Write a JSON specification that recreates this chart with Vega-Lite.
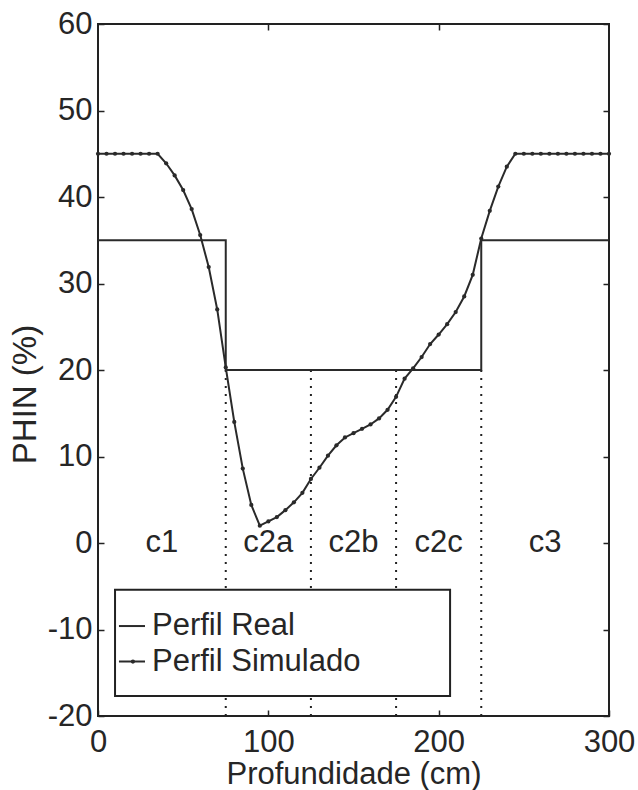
{
  "$schema": "https://vega.github.io/schema/vega-lite/v6.json",
  "width": 511,
  "height": 692,
  "autosize": {"type": "none"},
  "padding": {"left": 98, "top": 24, "right": 29, "bottom": 74},
  "background": "white",
  "config": {
    "view": {"stroke": "#222", "strokeWidth": 2},
    "font": "Liberation Sans",
    "axis": {
      "domain": false,
      "grid": false,
      "tickColor": "#222",
      "tickWidth": 1.5,
      "tickSize": -6,
      "labelFont": "Liberation Sans",
      "labelFontSize": 31,
      "labelColor": "#262626",
      "labelFlush": false,
      "labelExpr": "toString(datum.value)",
      "titleFont": "Liberation Sans",
      "titleFontSize": 31,
      "titleFontWeight": "normal",
      "titleColor": "#262626"
    }
  },
  "datasets": {
    "sim": [
      {"x": 0, "y": 45}, {"x": 5, "y": 45}, {"x": 10, "y": 45}, {"x": 15, "y": 45},
      {"x": 20, "y": 45}, {"x": 25, "y": 45}, {"x": 30, "y": 45}, {"x": 35, "y": 45},
      {"x": 40, "y": 43.9}, {"x": 45, "y": 42.5}, {"x": 50, "y": 40.8}, {"x": 55, "y": 38.6},
      {"x": 60, "y": 35.6}, {"x": 65, "y": 31.9}, {"x": 70, "y": 27.0}, {"x": 75, "y": 20.3},
      {"x": 80, "y": 14.0}, {"x": 85, "y": 8.6}, {"x": 90, "y": 4.4}, {"x": 95, "y": 2.0},
      {"x": 100, "y": 2.5}, {"x": 105, "y": 3.0}, {"x": 110, "y": 3.8}, {"x": 115, "y": 4.7},
      {"x": 120, "y": 5.8}, {"x": 125, "y": 7.4}, {"x": 130, "y": 8.7}, {"x": 135, "y": 10.1},
      {"x": 140, "y": 11.3}, {"x": 145, "y": 12.2}, {"x": 150, "y": 12.7}, {"x": 155, "y": 13.2},
      {"x": 160, "y": 13.7}, {"x": 165, "y": 14.4}, {"x": 170, "y": 15.4}, {"x": 175, "y": 16.9},
      {"x": 180, "y": 19.0}, {"x": 185, "y": 20.2}, {"x": 190, "y": 21.5}, {"x": 195, "y": 23.0},
      {"x": 200, "y": 24.1}, {"x": 205, "y": 25.3}, {"x": 210, "y": 26.7}, {"x": 215, "y": 28.5},
      {"x": 220, "y": 31.0}, {"x": 225, "y": 35.2}, {"x": 230, "y": 38.4}, {"x": 235, "y": 41.2},
      {"x": 240, "y": 43.5}, {"x": 245, "y": 45}, {"x": 250, "y": 45}, {"x": 255, "y": 45},
      {"x": 260, "y": 45}, {"x": 265, "y": 45}, {"x": 270, "y": 45}, {"x": 275, "y": 45},
      {"x": 280, "y": 45}, {"x": 285, "y": 45}, {"x": 290, "y": 45}, {"x": 295, "y": 45},
      {"x": 300, "y": 45}
    ],
    "real": [
      {"i": 0, "x": 0, "y": 35}, {"i": 1, "x": 75, "y": 35}, {"i": 2, "x": 75, "y": 20},
      {"i": 3, "x": 225, "y": 20}, {"i": 4, "x": 225, "y": 35}, {"i": 5, "x": 300, "y": 35}
    ],
    "bounds": [
      {"x": 75, "y": 20, "y2": -20}, {"x": 125, "y": 20, "y2": -20},
      {"x": 175, "y": 20, "y2": -20}, {"x": 225, "y": 20, "y2": -20}
    ],
    "zones": [
      {"x": 37.5, "y": 0, "label": "c1"}, {"x": 100, "y": 0, "label": "c2a"},
      {"x": 150, "y": 0, "label": "c2b"}, {"x": 200, "y": 0, "label": "c2c"},
      {"x": 262.5, "y": 0, "label": "c3"}
    ],
    "legendBox": [{"x": 10, "x2": 206.7, "y": -5.4, "y2": -17.7}],
    "legendItems": [
      {"x": 12.3, "x2": 27.6, "y": -9.6, "tx": 31.7, "label": "Perfil Real"},
      {"x": 12.3, "x2": 27.6, "y": -13.7, "tx": 31.7, "label": "Perfil Simulado"}
    ],
    "legendDot": [{"x": 20.5, "y": -13.7}]
  },
  "resolve": {"axis": {"x": "independent", "y": "independent"}},
  "layer": [
    {
      "data": {"name": "bounds"},
      "mark": {"type": "rule", "color": "#222", "strokeWidth": 2, "strokeDash": [2, 6]},
      "encoding": {
        "x": {"field": "x", "type": "quantitative", "scale": {"domain": [0, 300], "nice": false},
              "axis": {"values": [0, 100, 200, 300], "title": "Profundidade (cm)", "labelPadding": 17,
                       "titleX": 255.5, "titleY": 67, "titleBaseline": "alphabetic"}},
        "y": {"field": "y", "type": "quantitative", "scale": {"domain": [-20, 60], "nice": false},
              "axis": {"values": [-20, -10, 0, 10, 20, 30, 40, 50, 60], "title": "PHIN (%)", "labelPadding": 12,
                       "titleFontSize": 33,
                       "titleX": -73, "titleY": 370, "titleBaseline": "middle", "titleAlign": "center"}},
        "y2": {"field": "y2"}
      }
    },
    {
      "data": {"name": "legendBox"},
      "mark": {"type": "rect", "fill": "white", "stroke": "#222", "strokeWidth": 2},
      "encoding": {
        "x": {"field": "x", "type": "quantitative", "axis": null},
        "x2": {"field": "x2"},
        "y": {"field": "y", "type": "quantitative", "axis": null},
        "y2": {"field": "y2"}
      }
    },
    {
      "data": {"name": "real"},
      "mark": {"type": "line", "color": "#2a2a2a", "strokeWidth": 2},
      "encoding": {
        "x": {"field": "x", "type": "quantitative",
              "axis": {"orient": "top", "values": [100, 200], "labels": false, "title": null}},
        "y": {"field": "y", "type": "quantitative",
              "axis": {"orient": "right", "values": [-20, -10, 0, 10, 20, 30, 40, 50, 60], "labels": false, "title": null}},
        "order": {"field": "i", "type": "quantitative"}
      }
    },
    {
      "data": {"name": "sim"},
      "mark": {"type": "line", "color": "#2a2a2a", "strokeWidth": 2},
      "encoding": {
        "x": {"field": "x", "type": "quantitative", "axis": null},
        "y": {"field": "y", "type": "quantitative", "axis": null}
      }
    },
    {
      "data": {"name": "sim"},
      "mark": {"type": "point", "filled": true, "color": "#2a2a2a", "size": 18, "opacity": 1},
      "encoding": {
        "x": {"field": "x", "type": "quantitative", "axis": null},
        "y": {"field": "y", "type": "quantitative", "axis": null}
      }
    },
    {
      "data": {"name": "zones"},
      "mark": {"type": "text", "fontSize": 31, "font": "Liberation Sans", "color": "#262626", "align": "center", "baseline": "middle"},
      "encoding": {
        "x": {"field": "x", "type": "quantitative", "axis": null},
        "y": {"field": "y", "type": "quantitative", "axis": null},
        "text": {"field": "label"}
      }
    },
    {
      "data": {"name": "legendItems"},
      "mark": {"type": "rule", "color": "#2a2a2a", "strokeWidth": 2},
      "encoding": {
        "x": {"field": "x", "type": "quantitative", "axis": null},
        "x2": {"field": "x2"},
        "y": {"field": "y", "type": "quantitative", "axis": null}
      }
    },
    {
      "data": {"name": "legendDot"},
      "mark": {"type": "point", "filled": true, "color": "#2a2a2a", "size": 18, "opacity": 1},
      "encoding": {
        "x": {"field": "x", "type": "quantitative", "axis": null},
        "y": {"field": "y", "type": "quantitative", "axis": null}
      }
    },
    {
      "data": {"name": "legendItems"},
      "mark": {"type": "text", "fontSize": 31, "font": "Liberation Sans", "color": "#262626", "align": "left", "baseline": "middle"},
      "encoding": {
        "x": {"field": "tx", "type": "quantitative", "axis": null},
        "y": {"field": "y", "type": "quantitative", "axis": null},
        "text": {"field": "label"}
      }
    }
  ]
}
